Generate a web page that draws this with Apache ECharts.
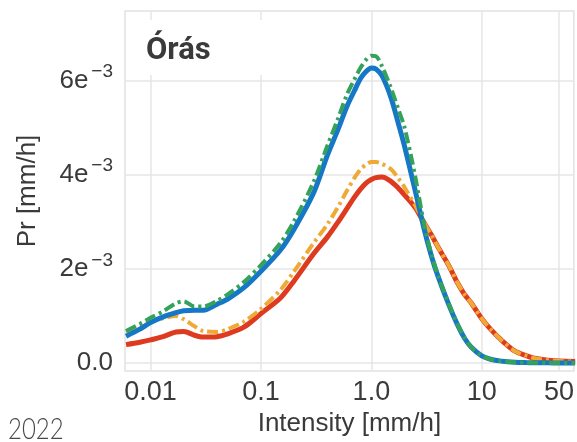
<!DOCTYPE html>
<html>
<head>
<meta charset="utf-8">
<script src="https://cdn.jsdelivr.net/npm/echarts@6/dist/echarts.min.js"></script>
<style>
  html, body { margin: 0; padding: 0; background: #ffffff; }
  #chart { width: 577px; height: 442px; }
</style>
</head>
<body>
<div id="chart"></div>
<script>
// Intensity [mm/h] sample points (shared by all curves)
const intensity = [0.006,0.008,0.01,0.013,0.017,0.02,0.025,0.03,0.04,0.05,0.07,0.1,0.15,0.2,0.3,0.4,0.5,0.6,0.7,0.8,0.9,1.0,1.1,1.25,1.5,1.75,2.0,2.5,3.0,3.5,4.0,5.0,6.0,7.0,8.0,10,12,15,20,25,30,40,50,70];

// Pr values in units of 1e-3
const blueSolid = [0.57,0.72,0.86,0.98,1.07,1.11,1.12,1.12,1.25,1.36,1.6,1.95,2.4,2.85,3.62,4.42,4.97,5.45,5.78,6.05,6.2,6.27,6.25,6.1,5.65,5.1,4.6,3.65,2.85,2.27,1.85,1.25,0.82,0.52,0.34,0.15,0.08,0.04,0.015,0.008,0.005,0.003,0.002,0.001];
const greenDashDot = [0.68,0.83,0.96,1.1,1.27,1.31,1.2,1.2,1.32,1.46,1.72,2.08,2.55,3.02,3.85,4.62,5.2,5.7,6.02,6.28,6.45,6.53,6.52,6.3,5.85,5.4,5.0,3.95,2.95,2.3,1.87,1.27,0.83,0.53,0.34,0.15,0.08,0.04,0.015,0.008,0.005,0.003,0.002,0.001];
const redSolid = [0.39,0.44,0.49,0.56,0.66,0.67,0.59,0.55,0.56,0.62,0.76,1.05,1.38,1.75,2.32,2.68,3.0,3.28,3.52,3.7,3.83,3.9,3.94,3.95,3.86,3.72,3.57,3.3,2.98,2.72,2.47,2.08,1.71,1.45,1.28,0.94,0.72,0.49,0.25,0.16,0.1,0.06,0.04,0.03];
const orangeDashDot = [0.66,0.78,0.88,0.95,1.0,0.93,0.78,0.68,0.66,0.72,0.88,1.15,1.55,1.95,2.55,2.95,3.32,3.66,3.93,4.12,4.22,4.27,4.27,4.23,4.12,3.93,3.73,3.34,2.98,2.72,2.47,2.08,1.71,1.45,1.28,0.94,0.72,0.49,0.25,0.16,0.1,0.06,0.04,0.03];

// Tick labels
const xTickValues = [0.01, 0.1, 1.0, 10, 50];
const xTickLabels = ['0.01', '0.1', '1.0', '10', '50'];
const yTickValues = [0, 2, 4, 6];
const yTickLabels = ['0.0', '2e−3', '4e−3', '6e−3'];

const X_MIN = 0.00587, X_MAX = 68.2;
const Y_MIN = -0.17, Y_MAX = 7.48;

const textColor = '#3a3a3a';
const font = 'Liberation Sans, Arial, sans-serif';

const xTickLogs = xTickValues.map(v => Math.log10(v));
function toPoints(vals) { return intensity.map((x, i) => [Math.log10(x), vals[i]]); }

const chart = echarts.init(document.getElementById('chart'), null, { renderer: 'canvas' });

function lineSeries(name, vals, color, width, dashed) {
  return {
    name: name, type: 'line', data: toPoints(vals),
    showSymbol: false, smooth: 0.3,
    lineStyle: { color: color, width: width, type: dashed ? [11, 4, 3, 4] : 'solid', cap: 'butt' },
    itemStyle: { color: color },
    emphasis: { disabled: true }
  };
}

chart.setOption({
  animation: false,
  backgroundColor: '#ffffff',
  title: {
    text: 'Órás', left: 143, top: 20,
    backgroundColor: '#ffffff', padding: [12, 130, 5, 3],
    textStyle: { fontSize: 31, fontWeight: 'bold', color: textColor, fontFamily: 'Roboto, Arial, sans-serif', lineHeight: 38 }
  },
  graphic: [{
    type: 'text', left: 8, top: 414, scaleX: 0.8,
    style: { text: '2022', fontSize: 30, fontWeight: 300, fontFamily: 'Lato, Open Sans, sans-serif', fill: '#4a4a4a' }
  }],
  grid: { left: 125, right: 2, top: 11, bottom: 69, show: true, borderColor: '#e2e2e2', borderWidth: 1.5, backgroundColor: '#ffffff' },
  xAxis: {
    type: 'value', min: Math.log10(X_MIN), max: Math.log10(X_MAX),
    axisLine: { show: false },
    axisTick: { show: false, customValues: xTickLogs },
    axisLabel: {
      customValues: xTickLogs, fontSize: 27, color: textColor, fontFamily: font, margin: 8,
      formatter: function (v) {
        for (let i = 0; i < xTickLogs.length; i++) if (Math.abs(xTickLogs[i] - v) < 1e-6) return xTickLabels[i];
        return '';
      }
    },
    splitLine: { show: true, lineStyle: { color: '#e6e6e6', width: 1.5 } },
    name: 'Intensity [mm/h]', nameLocation: 'middle', nameGap: 40,
    nameTextStyle: { fontSize: 26, color: textColor, fontFamily: font }
  },
  yAxis: {
    type: 'value', min: Y_MIN, max: Y_MAX,
    axisLine: { show: false },
    axisTick: { show: false, customValues: yTickValues },
    axisLabel: {
      customValues: yTickValues, margin: 12, color: textColor, fontFamily: font,
      formatter: function (v) {
        const idx = yTickValues.findIndex(t => Math.abs(t - v) < 1e-9);
        if (idx < 0) return '';
        const lab = yTickLabels[idx];
        const k = lab.indexOf('e');
        if (k < 0) return '{a|' + lab + '}';
        return '{a|' + lab.slice(0, k + 1) + '}{b|' + lab.slice(k + 1) + '}';
      },
      rich: {
        a: { fontSize: 26, lineHeight: 36, color: textColor, fontFamily: font },
        b: { fontSize: 19, lineHeight: 17, verticalAlign: 'top', color: textColor, fontFamily: font, padding: [0, 0, 0, 3] }
      }
    },
    splitLine: { show: true, lineStyle: { color: '#e6e6e6', width: 1.5 } },
    name: 'Pr [mm/h]', nameLocation: 'middle', nameGap: 84,
    nameTextStyle: { fontSize: 26, color: textColor, fontFamily: font }
  },
  series: [
    lineSeries('Red (solid)', redSolid, '#dd3a1f', 5, false),
    lineSeries('Orange (dash-dot)', orangeDashDot, '#f0a935', 4, true),
    lineSeries('Blue (solid)', blueSolid, '#1577c6', 5, false),
    lineSeries('Green (dash-dot)', greenDashDot, '#35a25a', 4, true)
  ]
});
</script>
</body>
</html>
